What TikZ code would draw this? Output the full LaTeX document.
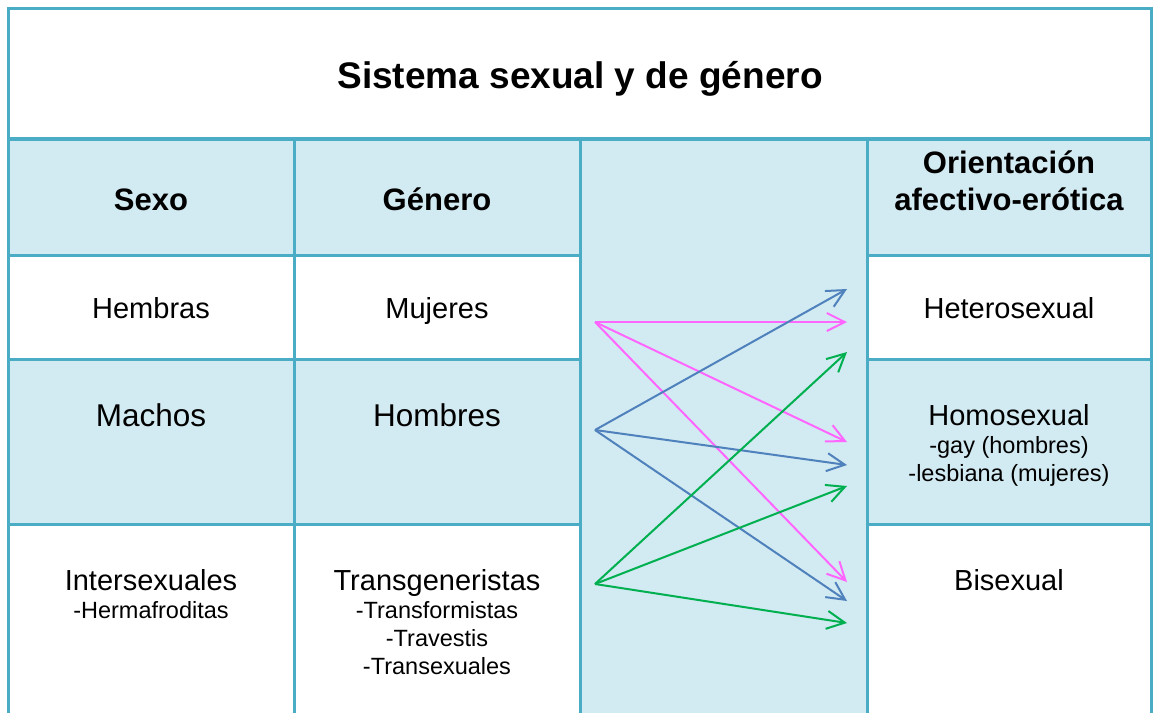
\documentclass[tikz,border=0pt]{standalone}
\usepackage{fontspec}
\setmainfont{Liberation Sans}
\usetikzlibrary{arrows.meta}
\definecolor{gridblue}{HTML}{4BACC6}
\definecolor{cellfill}{HTML}{D2EAF1}
\definecolor{arrpink}{HTML}{FF66FF}
\definecolor{arrblue}{HTML}{4F81BD}
\definecolor{arrgreen}{HTML}{00B050}
\begin{document}
\begin{tikzpicture}[x=1pt,y=-1pt,
  gridline/.style={draw=gridblue,line width=3pt},
  txt/.style={inner sep=0pt,anchor=base,font=\fontsize{29}{34}\selectfont},
  bigtxt/.style={inner sep=0pt,anchor=base,font=\fontsize{31.5}{37}\selectfont},
  subtxt/.style={inner sep=0pt,anchor=base,font=\fontsize{23.5}{28}\selectfont},
  headtxt/.style={inner sep=0pt,anchor=base,font=\bfseries\fontsize{31}{37}\selectfont},
  titletxt/.style={inner sep=0pt,anchor=base,font=\bfseries\fontsize{37}{44}\selectfont},
  conn/.style={line width=2pt,-{Straight Barb[length=18pt,width=18pt,line width=2pt]}},
]
\useasboundingbox (0,0) rectangle (1154,713);
% fills
\fill[white] (0,0) rectangle (1154,713);
\fill[cellfill] (8,139) rectangle (1151,255);
\fill[cellfill] (8,359) rectangle (1151,524);
\fill[cellfill] (580,139) rectangle (867,713);
% grid
\draw[gridline] (8,8) -- (1151,8);
\draw[gridline] (8,6.5) -- (8,713);
\draw[gridline] (1151,6.5) -- (1151,713);
\draw[draw=gridblue,line width=4.5pt] (6.5,139) -- (1152.5,139);
\draw[gridline] (294,139) -- (294,713);
\draw[gridline] (580,139) -- (580,713);
\draw[gridline] (867,139) -- (867,713);
\foreach \yy in {255,359,524}{
  \draw[gridline] (6.5,\yy) -- (581.5,\yy);
  \draw[gridline] (865.5,\yy) -- (1152.5,\yy);
}
% texts
\node[titletxt] (title) at (580,88) {Sistema sexual y de género};
\node[headtxt] (hsexo) at (151,210) {Sexo};
\node[headtxt] (hgenero) at (437,210) {Género};
\node[headtxt] (horient1) at (1009,173) {Orientación};
\node[headtxt] (horient2) at (1009,210) {afectivo-erótica};
\node[txt] (hembras) at (151,318) {Hembras};
\node[txt] (mujeres) at (437,318) {Mujeres};
\node[txt] (hetero) at (1009,318) {Heterosexual};
\node[bigtxt] (machos) at (151,426) {Machos};
\node[bigtxt] (hombres) at (437,426) {Hombres};
\node[txt] (homo) at (1009,425) {Homosexual};
\node[subtxt] (gay) at (1009,453) {-gay (hombres)};
\node[subtxt] (lesb) at (1009,481) {-lesbiana (mujeres)};
\node[txt] (inter) at (151,590) {Intersexuales};
\node[subtxt] (herma) at (151,618) {-Hermafroditas};
\node[txt] (trans) at (437,590) {Transgeneristas};
\node[subtxt] (transf) at (437,618) {-Transformistas};
\node[subtxt] (trav) at (437,646) {-Travestis};
\node[subtxt] (transx) at (437,674) {-Transexuales};
\node[txt] (bi) at (1009,590) {Bisexual};
% arrow end points
\coordinate (pS) at (595,322);
\coordinate (bS) at (595,430);
\coordinate (gS) at (595,584);
\coordinate (pE1) at (847,322);
\coordinate (pE2) at (847,442);
\coordinate (pE3) at (847,582);
\coordinate (bE1) at (847,289);
\coordinate (bE2) at (847,465);
\coordinate (bE3) at (847,601);
\coordinate (gE1) at (847,352);
\coordinate (gE2) at (847,486);
\coordinate (gE3) at (847,623);
% arrows
\draw[conn,arrpink] (pS) -- (pE1);
\draw[conn,arrpink] (pS) -- (pE2);
\draw[conn,arrpink] (pS) -- (pE3);
\draw[conn,arrblue] (bS) -- (bE1);
\draw[conn,arrblue] (bS) -- (bE2);
\draw[conn,arrblue] (bS) -- (bE3);
\draw[conn,arrgreen] (gS) -- (gE1);
\draw[conn,arrgreen] (gS) -- (gE2);
\draw[conn,arrgreen] (gS) -- (gE3);
\end{tikzpicture}
\end{document}
